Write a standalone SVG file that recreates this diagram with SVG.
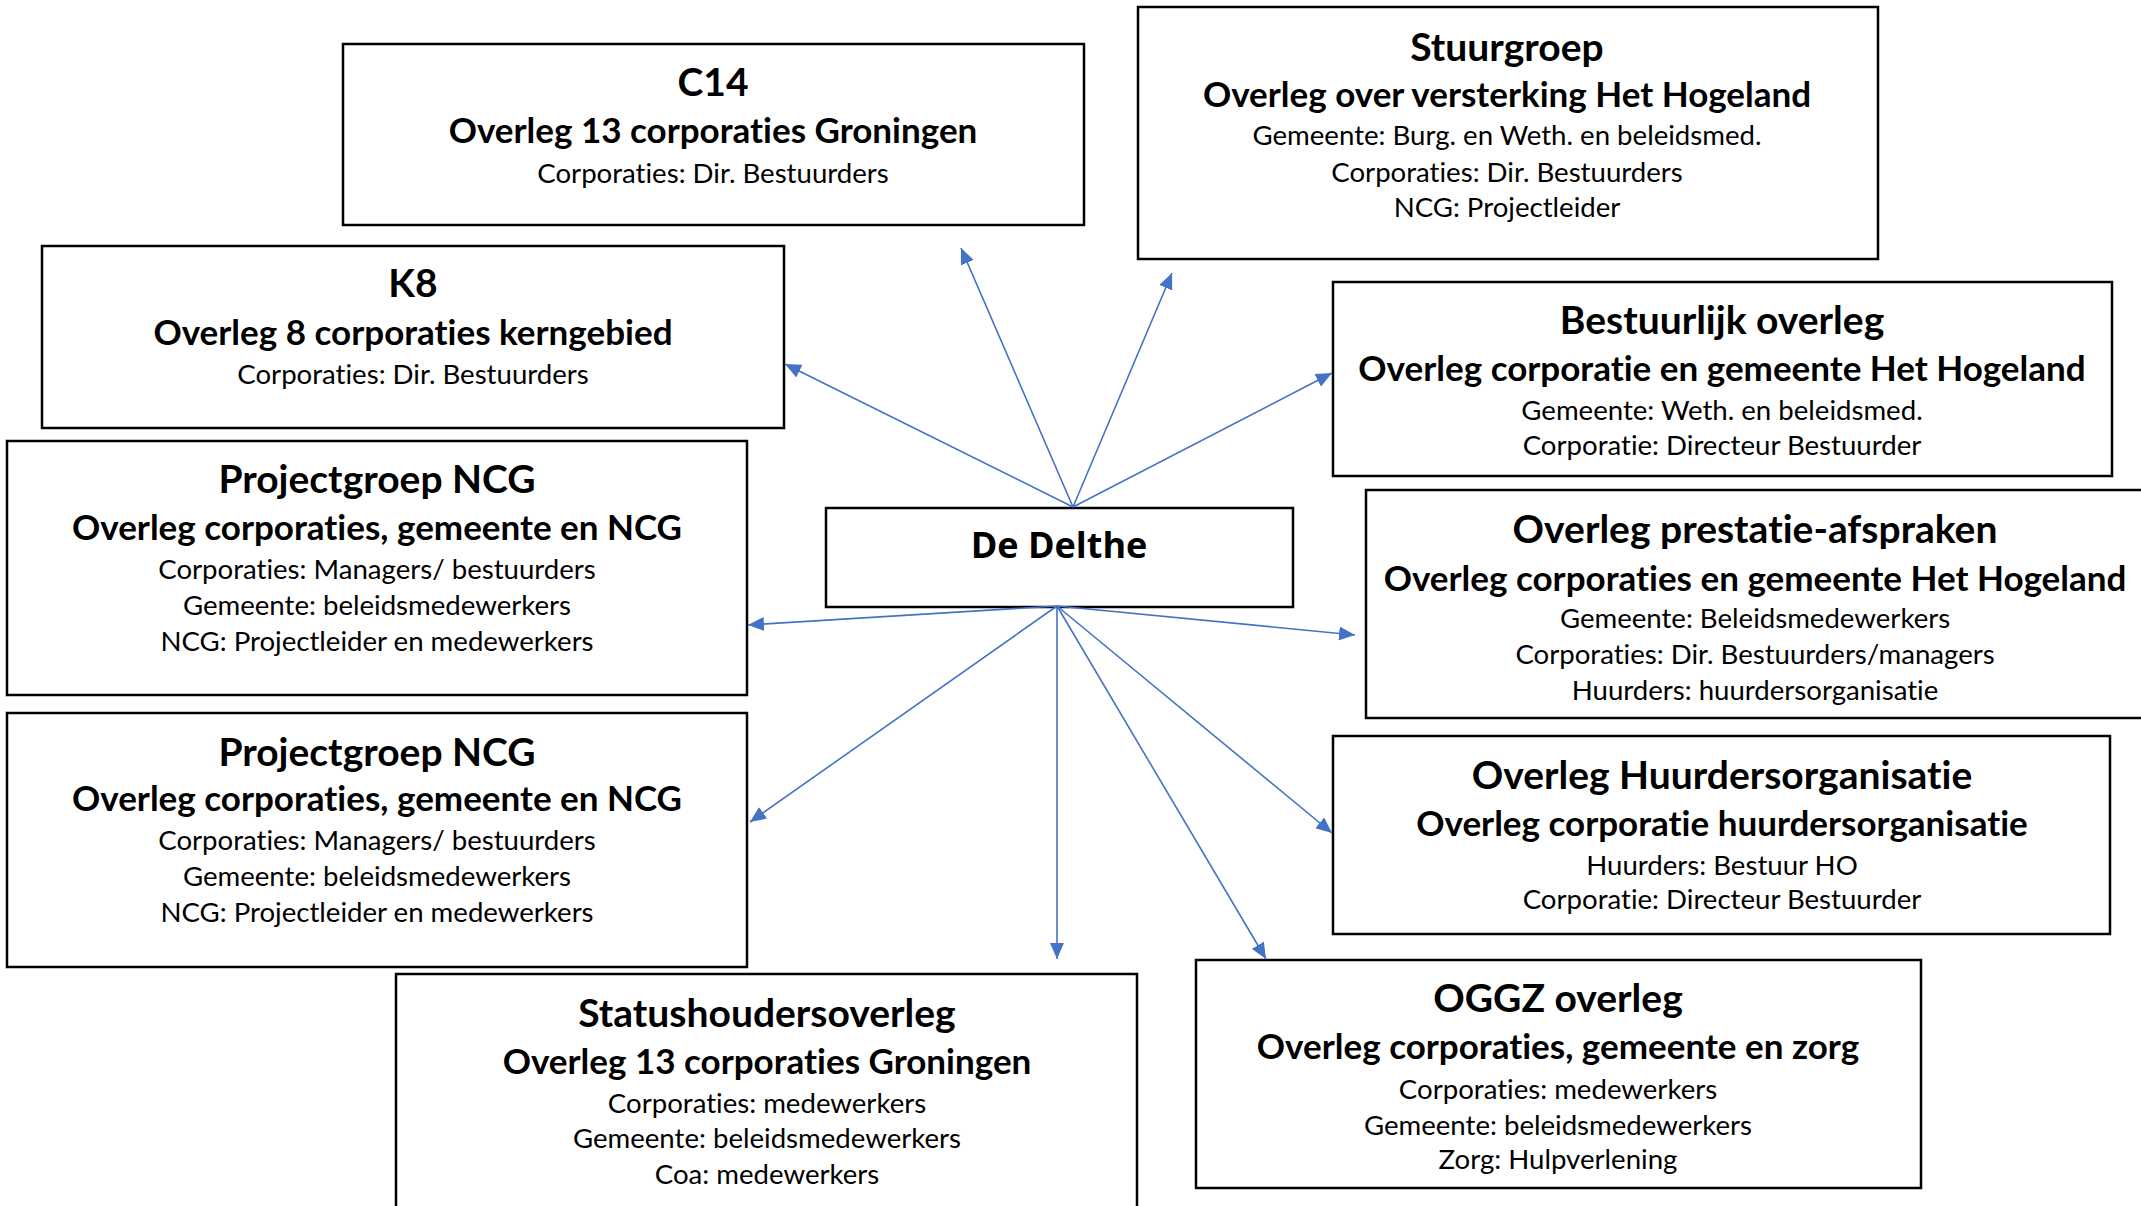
<svg xmlns="http://www.w3.org/2000/svg" width="2141" height="1206" viewBox="0 0 2141 1206">
<style>
.box{fill:#fff;stroke:#000;stroke-width:2.5}
text{font-family:Lato,"Liberation Sans",sans-serif;text-anchor:middle;fill:#000;font-variant-ligatures:none;font-feature-settings:"liga" 0}
.t{font-size:39px;font-weight:700}
.s{font-size:35px;font-weight:700}
.b{font-size:27.6px;font-weight:400}
.c{font-family:"Open Sans","DejaVu Sans",sans-serif;font-size:36px;font-weight:700}
.con line{stroke:#4472C4;stroke-width:1.6;marker-end:url(#ah)}
</style>
<defs>
<marker id="ah" markerUnits="userSpaceOnUse" markerWidth="17" markerHeight="14" refX="16" refY="7" orient="auto">
<path d="M0,0 L16,7 L0,14 z" fill="#4472C4"/>
</marker>
</defs>
<rect width="2141" height="1206" fill="#fff"/>
<g id="c14">
<rect class="box" x="343" y="44" width="741" height="181"/>
<text class="t" x="713" y="96">C14</text>
<text class="s" x="713" y="143">Overleg 13 corporaties Groningen</text>
<text class="b" x="713" y="183">Corporaties: Dir. Bestuurders</text>
</g>
<g id="stuurgroep">
<rect class="box" x="1138" y="7" width="740" height="252"/>
<text class="t" x="1507" y="61">Stuurgroep</text>
<text class="s" x="1507" y="107">Overleg over versterking Het Hogeland</text>
<text class="b" x="1507" y="145">Gemeente: Burg. en Weth. en beleidsmed.</text>
<text class="b" x="1507" y="182">Corporaties: Dir. Bestuurders</text>
<text class="b" x="1507" y="217">NCG: Projectleider</text>
</g>
<g id="k8">
<rect class="box" x="42" y="246" width="742" height="182"/>
<text class="t" x="413" y="297">K8</text>
<text class="s" x="413" y="345">Overleg 8 corporaties kerngebied</text>
<text class="b" x="413" y="384">Corporaties: Dir. Bestuurders</text>
</g>
<g id="bestuurlijk">
<rect class="box" x="1333" y="282" width="779" height="194"/>
<text class="t" x="1722" y="334">Bestuurlijk overleg</text>
<text class="s" x="1722" y="381">Overleg corporatie en gemeente Het Hogeland</text>
<text class="b" x="1722" y="420">Gemeente: Weth. en beleidsmed.</text>
<text class="b" x="1722" y="455">Corporatie: Directeur Bestuurder</text>
</g>
<g id="projectgroep1">
<rect class="box" x="7" y="441" width="740" height="254"/>
<text class="t" x="377" y="493">Projectgroep NCG</text>
<text class="s" x="377" y="540">Overleg corporaties, gemeente en NCG</text>
<text class="b" x="377" y="579">Corporaties: Managers/ bestuurders</text>
<text class="b" x="377" y="615">Gemeente: beleidsmedewerkers</text>
<text class="b" x="377" y="651">NCG: Projectleider en medewerkers</text>
</g>
<g id="delthe">
<rect class="box" x="826" y="508" width="467" height="99"/>
<text class="c" x="1059" y="558">De Delthe</text>
</g>
<g id="prestatie">
<rect class="box" x="1366" y="490" width="780" height="228"/>
<text class="t" x="1755" y="543">Overleg prestatie-afspraken</text>
<text class="s" x="1755" y="591">Overleg corporaties en gemeente Het Hogeland</text>
<text class="b" x="1755" y="628">Gemeente: Beleidsmedewerkers</text>
<text class="b" x="1755" y="664">Corporaties: Dir. Bestuurders/managers</text>
<text class="b" x="1755" y="700">Huurders: huurdersorganisatie</text>
</g>
<g id="projectgroep2">
<rect class="box" x="7" y="713" width="740" height="254"/>
<text class="t" x="377" y="766">Projectgroep NCG</text>
<text class="s" x="377" y="811">Overleg corporaties, gemeente en NCG</text>
<text class="b" x="377" y="850">Corporaties: Managers/ bestuurders</text>
<text class="b" x="377" y="886">Gemeente: beleidsmedewerkers</text>
<text class="b" x="377" y="922">NCG: Projectleider en medewerkers</text>
</g>
<g id="huurders">
<rect class="box" x="1333" y="736" width="777" height="198"/>
<text class="t" x="1722" y="789">Overleg Huurdersorganisatie</text>
<text class="s" x="1722" y="836">Overleg corporatie huurdersorganisatie</text>
<text class="b" x="1722" y="875">Huurders: Bestuur HO</text>
<text class="b" x="1722" y="909">Corporatie: Directeur Bestuurder</text>
</g>
<g id="statushouders">
<rect class="box" x="396" y="974" width="741" height="254"/>
<text class="t" x="767" y="1027">Statushoudersoverleg</text>
<text class="s" x="767" y="1074">Overleg 13 corporaties Groningen</text>
<text class="b" x="767" y="1113">Corporaties: medewerkers</text>
<text class="b" x="767" y="1148">Gemeente: beleidsmedewerkers</text>
<text class="b" x="767" y="1184">Coa: medewerkers</text>
</g>
<g id="oggz">
<rect class="box" x="1196" y="960" width="725" height="228"/>
<text class="t" x="1558" y="1012">OGGZ overleg</text>
<text class="s" x="1558" y="1059">Overleg corporaties, gemeente en zorg</text>
<text class="b" x="1558" y="1099">Corporaties: medewerkers</text>
<text class="b" x="1558" y="1135">Gemeente: beleidsmedewerkers</text>
<text class="b" x="1558" y="1169">Zorg: Hulpverlening</text>
</g>
<g id="connectors" class="con">
<line x1="1073" y1="507" x2="961" y2="248"/>
<line x1="1073" y1="507" x2="1172" y2="273"/>
<line x1="1073" y1="507" x2="1332" y2="373"/>
<line x1="1073" y1="507" x2="785" y2="364"/>
<line x1="1057" y1="606" x2="748" y2="625"/>
<line x1="1057" y1="606" x2="1355" y2="635"/>
<line x1="1057" y1="606" x2="750" y2="822"/>
<line x1="1057" y1="606" x2="1057" y2="959"/>
<line x1="1057" y1="606" x2="1266" y2="959"/>
<line x1="1057" y1="606" x2="1332" y2="833"/>
</g>
</svg>
